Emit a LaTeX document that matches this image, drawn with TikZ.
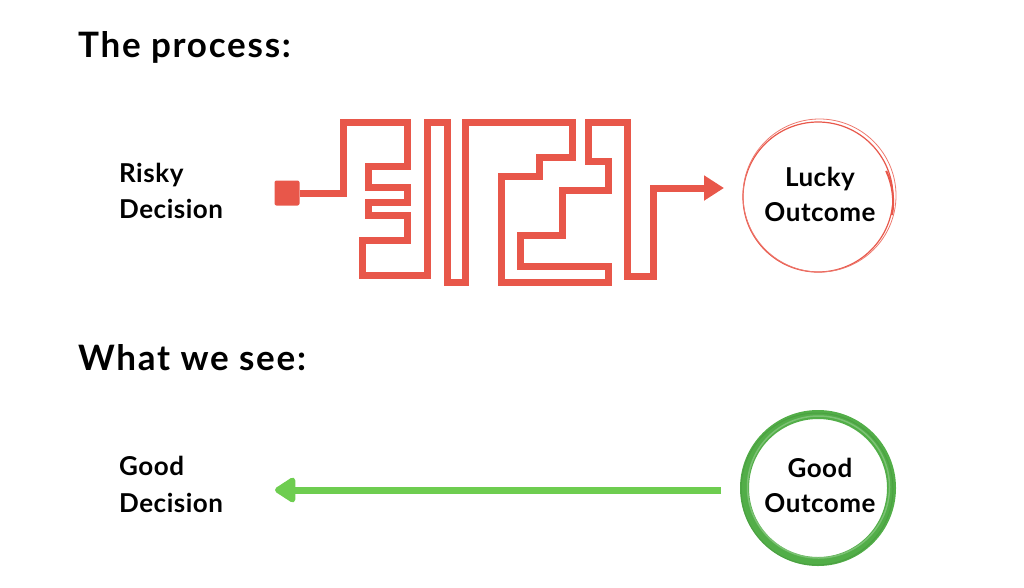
\documentclass[tikz,border=0pt]{standalone}
\usepackage{fontspec}
\setmainfont{Lato}
\newfontfamily\titlefont[LetterSpace=5]{Lato}
\newfontfamily\labelfont[LetterSpace=2]{Lato}
\usetikzlibrary{arrows.meta}
\definecolor{mazered}{HTML}{E8574A}
\definecolor{arrowgreen}{HTML}{6ECD50}
\definecolor{circgreen}{HTML}{52AE48}
\tikzset{
  title/.style={anchor=base west, inner sep=0pt, font=\titlefont\bfseries\fontsize{35}{40}\selectfont, text=black},
  label/.style={anchor=base west, inner sep=0pt, font=\labelfont\bfseries\fontsize{26}{36}\selectfont, text=black},
  ctext/.style={inner sep=0pt, align=center, font=\labelfont\bfseries\fontsize{26}{35}\selectfont, text=black},
  maze/.style={draw=mazered, line width=7pt, line join=miter, line cap=butt},
}
\begin{document}
\begin{tikzpicture}[x=1pt,y=-1pt]
\useasboundingbox (0,0) rectangle (1024,587);
% titles
\node[title] (t1) at (78,57) {The process:};
\node[title] (t2) at (78,370) {What we see:};
% left labels
\node[label] (r1) at (119,182) {Risky};
\node[label] (r2) at (119,218) {Decision};
\node[label] (g1) at (119,475) {Good};
\node[label] (g2) at (119,512) {Decision};
% maze
\node[fill=mazered, minimum size=25pt, inner sep=0pt, rounded corners=2pt] (start) at (287,193) {};
\coordinate (mazeend) at (724,188);
\draw[maze, -{Triangle[length=20pt,width=24pt]}] (start.east) -- (343,193) -- (343,122) -- (407,122) -- (407,166) -- (368,166) -- (368,187) -- (407,187) -- (407,202) -- (368,202) -- (368,215) -- (407,215) -- (407,240) -- (362,240) -- (362,275) -- (427,275) -- (427,122) -- (447,122) -- (447,282) -- (465,282) -- (465,122) -- (572,122) -- (572,157) -- (539,157) -- (539,176) -- (501,176) -- (501,282) -- (608,282) -- (608,266) -- (520,266) -- (520,235) -- (562,235) -- (562,190) -- (608,190) -- (608,161) -- (588,161) -- (588,122) -- (627,122) -- (627,276) -- (653,276) -- (653,188) -- (mazeend);
% lucky circle
\node[circle, minimum size=150pt, inner sep=0pt, draw=mazered, line width=1.2pt] (lucky) at (818,197) {};
\draw[mazered!80, line width=0.8pt] (819.5,195.5) circle (76.5);
\draw[mazered, line width=2pt] (892,215) arc (10:-25:74);
\node[ctext] (lt) at (820,194) {Lucky\\Outcome};
% good circle
\node[circle, minimum size=147pt, inner sep=0pt, draw=circgreen, line width=9pt] (good) at (818,488) {};
\draw[circgreen!60, line width=1.5pt, opacity=0.6] (818.5,487) circle (71);
\draw[circgreen!80!black, line width=1pt, opacity=0.4] (817,489) circle (76);
\node[ctext] (gt) at (820,485) {Good\\Outcome};
% green arrow
\coordinate (garrowstart) at (721,490);
\draw[arrowgreen, line width=7pt, -{Triangle[length=23pt,width=28pt,round]}] (garrowstart) -- (275,490);
\end{tikzpicture}
\end{document}
